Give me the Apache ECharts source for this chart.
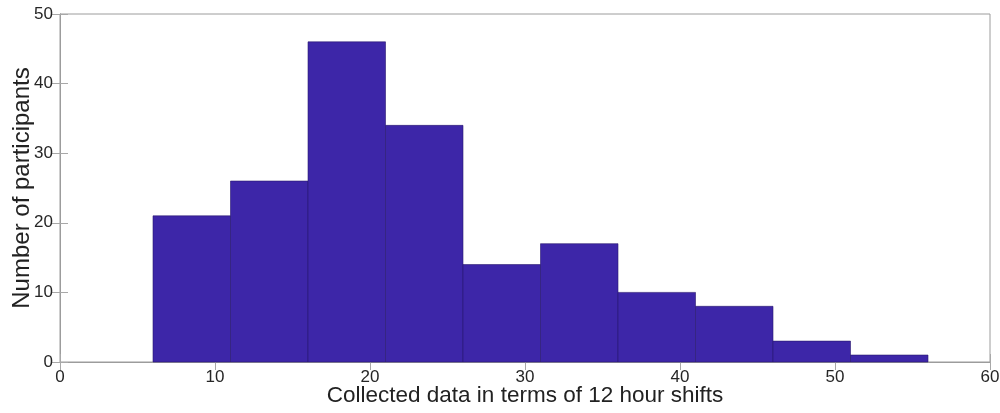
<!DOCTYPE html>
<html><head><meta charset="utf-8">
<script src="https://cdn.jsdelivr.net/npm/echarts@6/dist/echarts.min.js"></script>
<style>html,body{margin:0;padding:0;background:#fff}#c{width:1000px;height:413px}</style>
</head><body><div id="c"></div>
<script>
const binStarts = [6, 11, 16, 21, 26, 31, 36, 41, 46, 51];
const binWidth = 5;
const counts = [21, 26, 46, 34, 14, 17, 10, 8, 3, 1];
const xTicks = [0, 10, 20, 30, 40, 50, 60];
const yTicks = [0, 10, 20, 30, 40, 50];
const xTitle = 'Collected data in terms of 12 hour shifts';
const yTitle = 'Number of participants';

const data = binStarts.map((s, i) => [s, s + binWidth, counts[i]]);
const font = 'Liberation Sans, Arial, Helvetica, sans-serif';
const axisCol = '#9c9c9c';
const chart = echarts.init(document.getElementById('c'));
const tickStyle = {show: true, inside: true, length: 8, lineStyle: {color: '#a8a8a8', width: 1}};
chart.setOption({
  animation: false,
  grid: {left: 60, right: 10, top: 14, bottom: 51, containLabel: false, outerBoundsMode: 'none',
         show: true, borderColor: axisCol, borderWidth: 1, backgroundColor: 'transparent'},
  xAxis: [{
    type: 'value', min: 0, max: 60, interval: 10,
    name: xTitle, nameLocation: 'middle', nameGap: 22, nameMoveOverlap: false,
    nameTextStyle: {fontFamily: font, fontSize: 22.5, color: '#222', verticalAlign: 'top'},
    axisLine: {show: true, lineStyle: {color: axisCol}},
    axisTick: tickStyle,
    axisLabel: {fontFamily: font, fontSize: 17, color: '#262626', margin: 7},
    splitLine: {show: false}
  }, {
    type: 'value', min: 0, max: 60, interval: 10, position: 'top',
    axisLine: {show: true, lineStyle: {color: axisCol}},
    axisTick: tickStyle, axisLabel: {show: false}, splitLine: {show: false}
  }],
  yAxis: [{
    type: 'value', min: 0, max: 50, interval: 10,
    name: yTitle, nameLocation: 'middle', nameGap: 26, nameRotate: 90, nameMoveOverlap: false,
    nameTextStyle: {fontFamily: font, fontSize: 24, color: '#222'},
    axisLine: {show: true, lineStyle: {color: axisCol}},
    axisTick: tickStyle,
    axisLabel: {fontFamily: font, fontSize: 17, color: '#262626', margin: 7},
    splitLine: {show: false}
  }, {
    type: 'value', min: 0, max: 50, interval: 10, position: 'right',
    axisLine: {show: true, lineStyle: {color: axisCol}},
    axisTick: tickStyle, axisLabel: {show: false}, splitLine: {show: false}
  }],
  series: [{
    type: 'custom',
    data: data,
    encode: {x: [0, 1], y: 2},
    renderItem: function (params, api) {
      const p0 = api.coord([api.value(0), 0]);
      const p1 = api.coord([api.value(1), api.value(2)]);
      return {
        type: 'rect',
        shape: {x: p0[0], y: p1[1], width: p1[0] - p0[0], height: p0[1] - p1[1]},
        style: {fill: '#3D26A8', stroke: '#2a1a6e', lineWidth: 0.6}
      };
    }
  }]
});
</script></body></html>
